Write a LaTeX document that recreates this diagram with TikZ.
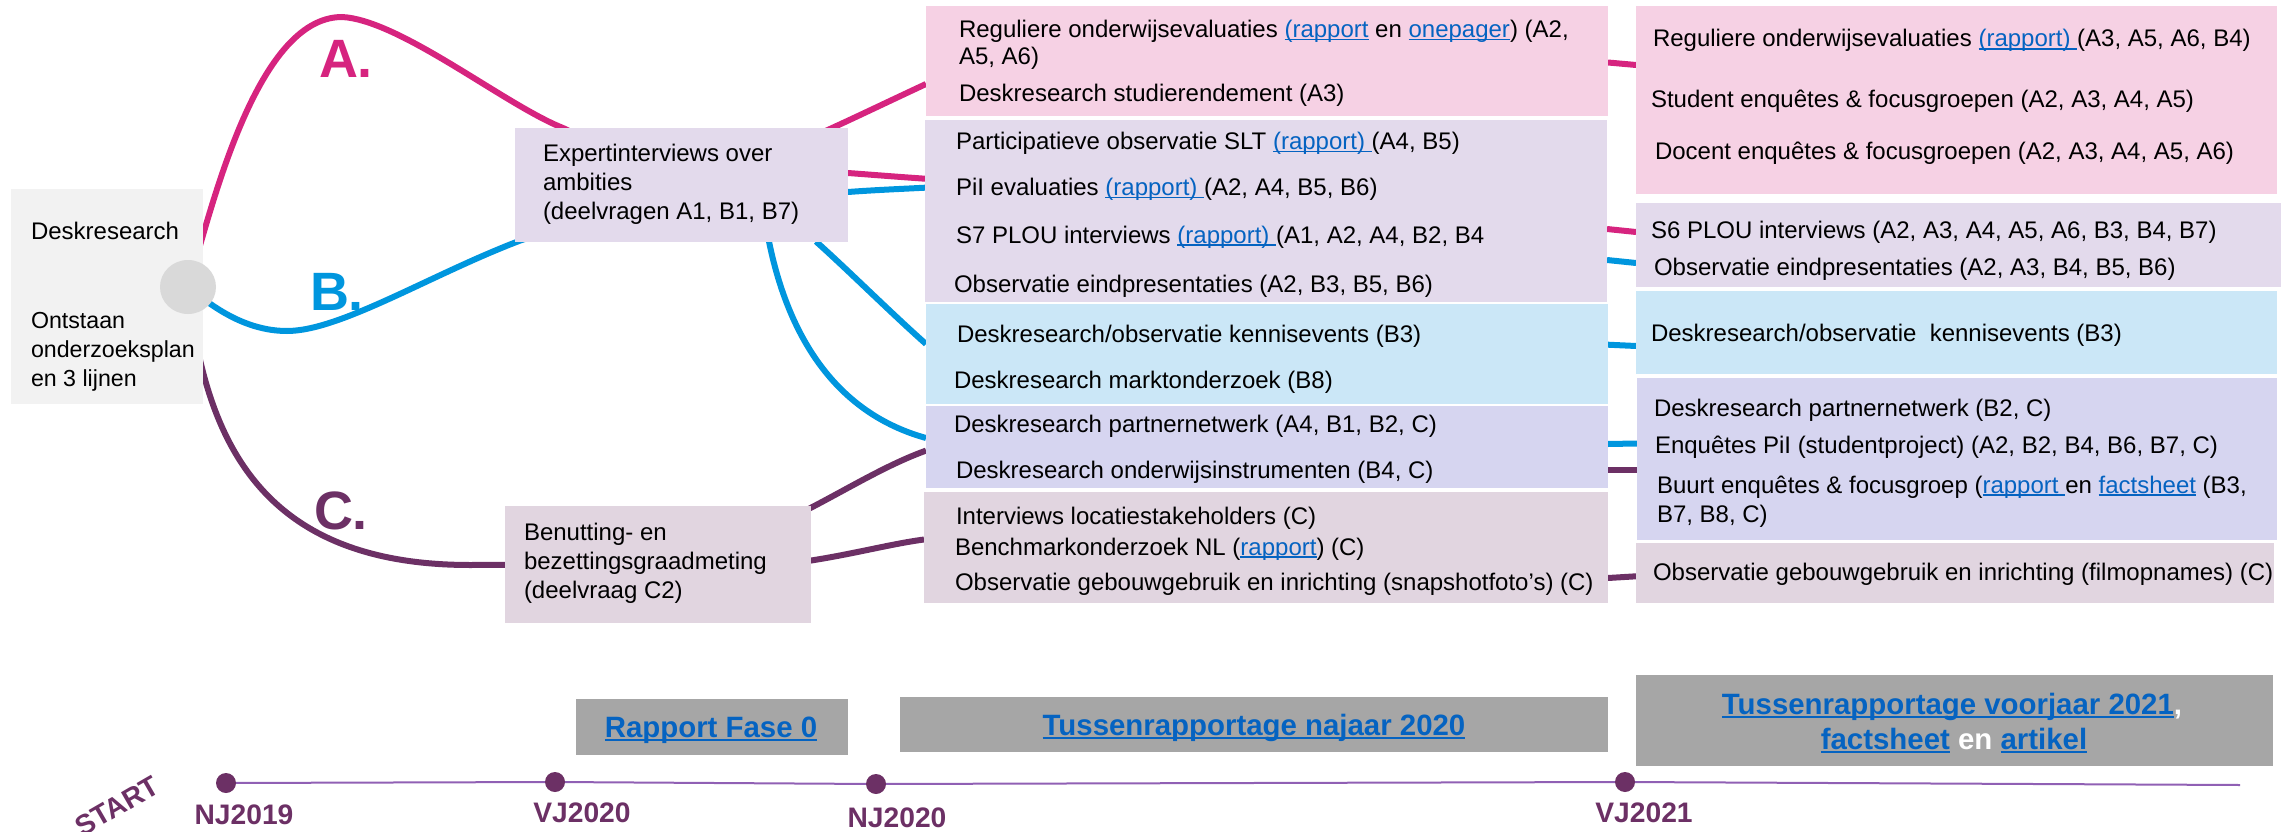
\documentclass[tikz,border=0pt]{standalone}
\usepackage{fontspec}
\setmainfont{Liberation Sans}
\usetikzlibrary{shapes.geometric}
\pgfdeclarelayer{bg}
\pgfsetlayers{bg,main}
\definecolor{cpink}{HTML}{D6247F}
\definecolor{cblue}{HTML}{0096DE}
\definecolor{cplum}{HTML}{6C3065}
\definecolor{fpink}{HTML}{F6D1E4}
\definecolor{flav}{HTML}{E3DAEC}
\definecolor{fblue}{HTML}{CBE7F7}
\definecolor{fperi}{HTML}{D6D5F0}
\definecolor{fmauve}{HTML}{E1D5E0}
\definecolor{fgrey}{HTML}{F2F2F2}
\definecolor{fbar}{HTML}{A6A6A6}
\definecolor{lnk}{HTML}{0563C1}
\definecolor{tline}{HTML}{9060B4}
\newsavebox{\lnkbox}
\newcommand{\lnk}[1]{\sbox{\lnkbox}{\color{lnk}#1}\rlap{\usebox{\lnkbox}}\textcolor{lnk}{\rule[-2.6pt]{\wd\lnkbox}{1.4pt}}}
\newcommand{\lnkb}[1]{\sbox{\lnkbox}{\color{lnk}#1}\rlap{\usebox{\lnkbox}}\textcolor{lnk}{\rule[-4.4pt]{\wd\lnkbox}{2.6pt}}}
\newcommand{\bx}[6]{\node[boxnode,fill=#2,minimum width={(#5)-(#3)},minimum height={(#6)-(#4)}] (#1) at ({((#3)+(#5))/2},{((#4)+(#6))/2}) {};}
\newcommand{\tx}[4]{\node[label text] (#1) at (#2,#3) {#4};}
\tikzset{
  boxnode/.style={inner sep=0pt,outer sep=0pt,draw=none},
  label text/.style={anchor=base west,inner sep=0pt,outer sep=0pt,align=left,text=black,font=\fontsize{24pt}{29pt}\selectfont},
  bar text/.style={anchor=base,inner sep=0pt,outer sep=0pt,text=white,font=\bfseries\fontsize{29.4pt}{35pt}\selectfont},
  date text/.style={anchor=base,inner sep=0pt,outer sep=0pt,text=cplum,font=\bfseries\fontsize{28.2pt}{33pt}\selectfont},
  letter/.style={anchor=base,inner sep=0pt,outer sep=0pt,font=\bfseries\fontsize{54pt}{60pt}\selectfont},
  conn/.style={line width=6pt,line cap=butt},
  dot/.style={circle,fill=cplum,inner sep=0pt,minimum size=20pt}
}
\begin{document}
\begin{tikzpicture}[x=1pt,y=-1pt]
\useasboundingbox (0,0) rectangle (2288,832);
% left
\bx{start}{fgrey}{11}{189}{203}{404}
\node[ellipse,fill=black!15,inner sep=0pt,minimum width=56pt,minimum height=54pt] (hub) at (188,287) {};
\bx{expert}{flav}{515}{128}{848}{241.5}
\bx{benut}{fmauve}{505}{506}{811}{623}
% middle column
\bx{mpink}{fpink}{926}{6}{1608}{116}
\bx{mlav}{flav}{925}{120}{1607}{302}
\bx{mblue}{fblue}{926}{304}{1608}{404}
\bx{mperi}{fperi}{926}{406}{1608}{488}
\bx{mmauve}{fmauve}{924}{492}{1608}{603}
% right column
\bx{rpink}{fpink}{1636}{6}{2277}{194}
\bx{rlav}{flav}{1636}{203}{2281}{287}
\bx{rblue}{fblue}{1636}{291}{2277}{374}
\bx{rperi}{fperi}{1637}{378}{2277}{540}
\bx{rmauve}{fmauve}{1636}{543}{2274}{603}
% bars
\bx{bar1}{fbar}{576}{699}{848}{755}
\bx{bar2}{fbar}{900}{697}{1608}{752}
\bx{bar3}{fbar}{1636}{675}{2273}{766}
% connectors
\begin{pgfonlayer}{bg}
\draw[conn,cpink] (hub.center) .. controls (210,215) and (255,17) .. (342,17) .. controls (400,20) and (505,105) .. (563,128) -- (expert.center);
\draw[conn,cblue] (hub.center) .. controls (205,300) and (240,331) .. (287,331) .. controls (340,331) and (430,275) .. (519,241) -- (expert.center);
\draw[conn,cplum] (hub.center) .. controls (205,440) and (260,565) .. (470,565) -- (benut.center);
\draw[conn,cpink] (expert.center) .. controls (760,165) and (840,124) .. ([yshift=-23pt]mpink.west);
\draw[conn,cpink] ([yshift=11.75pt]expert.east) .. controls (875,175) and (900,177) .. ([yshift=32.3pt]mlav.west);
\draw[conn,cblue] ([yshift=-7.25pt]expert.east) .. controls (875,190) and (900,189) .. ([yshift=23.3pt]mlav.west);
\draw[conn,cblue] ([xshift=-32pt]expert.south east) .. controls (850,272) and (890,312) .. ([yshift=10pt]mblue.west);
\draw[conn,cblue] ([xshift=-79pt]expert.south east) .. controls (785,320) and (825,410) .. ([yshift=9pt]mperi.west);
\draw[conn,cplum] (benut.center) .. controls (780,540) and (850,478) .. ([yshift=-3.6pt]mperi.west);
\draw[conn,cplum] (benut.center) .. controls (780,578) and (860,548) .. ([yshift=8pt]mmauve.west);
\draw[conn,cpink] ([yshift=-1.5pt]mpink.east) -- ([yshift=35pt]rpink.west);
\draw[conn,cpink] ([yshift=-18pt]mlav.east) -- ([yshift=13pt]rlav.west);
\draw[conn,cblue] ([yshift=-49pt]mlav.east) -- ([yshift=-18pt]rlav.west);
\draw[conn,cblue] ([yshift=9.3pt]mblue.east) -- ([yshift=-13.5pt]rblue.west);
\draw[conn,cblue] ([yshift=3pt]mperi.east) -- ([yshift=15.5pt]rperi.west);
\draw[conn,cplum] ([yshift=-22.6pt]mperi.east) -- ([yshift=-10.6pt]rperi.west);
\draw[conn,cplum] ([yshift=-30.5pt]mmauve.east) -- ([yshift=-3.3pt]rmauve.west);
\end{pgfonlayer}
% letters
\node[letter,text=cpink] (la) at (346,78) {A.};
\node[letter,text=cblue] (lb) at (337,310) {B.};
\node[letter,text=cplum] (lc) at (341,529) {C.};
% left texts
\tx{t1}{31}{239}{Deskresearch}
\node[label text,font=\fontsize{23.2pt}{29pt}\selectfont] (t2) at (31,386) {Ontstaan\\onderzoeksplan\\en 3 lijnen};
\tx{t3}{543}{219}{Expertinterviews over\\ambities\\(deelvragen A1, B1, B7)}
\tx{t4}{524}{598}{Benutting- en\\bezettingsgraadmeting\\(deelvraag C2)}
% middle texts
\tx{m1}{959}{65}{Reguliere onderwijsevaluaties \lnk{(rapport} en \lnk{onepager}) (A2,\\[-1.5pt]A5, A6)}
\tx{m2}{959}{102}{Deskresearch studierendement (A3)}
\tx{m3}{956}{149.5}{Participatieve observatie SLT \lnk{(rapport)\ }(A4, B5)}
\tx{m4}{956}{195.7}{PiI evaluaties \lnk{(rapport)\ }(A2, A4, B5, B6)}
\tx{m5}{956}{243}{S7 PLOU interviews \lnk{(rapport)\ }(A1, A2, A4, B2, B4}
\tx{m6}{954}{292.5}{Observatie eindpresentaties (A2, B3, B5, B6)}
\tx{m7}{957}{342}{Deskresearch/observatie kennisevents (B3)}
\tx{m8}{954}{388}{Deskresearch marktonderzoek (B8)}
\tx{m9}{954}{432.4}{Deskresearch partnernetwerk (A4, B1, B2, C)}
\tx{m10}{956}{478}{Deskresearch onderwijsinstrumenten (B4, C)}
\tx{m11}{956}{524}{Interviews locatiestakeholders (C)}
\tx{m12}{955}{555}{Benchmarkonderzoek NL (\lnk{rapport}) (C)}
\tx{m13}{955}{590}{Observatie gebouwgebruik en inrichting (snapshotfoto’s) (C)}
% right texts
\tx{r1}{1653}{47}{Reguliere onderwijsevaluaties \lnk{(rapport)\ }(A3, A5, A6, B4)}
\tx{r2}{1651}{107.5}{Student enquêtes \& focusgroepen (A2, A3, A4, A5)}
\tx{r3}{1655}{159}{Docent enquêtes \& focusgroepen (A2, A3, A4, A5, A6)}
\tx{r4}{1651}{238}{S6 PLOU interviews (A2, A3, A4, A5, A6, B3, B4, B7)}
\tx{r5}{1654}{275}{Observatie eindpresentaties (A2, A3, B4, B5, B6)}
\tx{r6}{1651}{341}{Deskresearch/observatie\ \ kennisevents (B3)}
\tx{r7}{1654}{416}{Deskresearch partnernetwerk (B2, C)}
\tx{r8}{1655}{453}{Enquêtes PiI (studentproject) (A2, B2, B4, B6, B7, C)}
\tx{r9}{1657}{522}{Buurt enquêtes \& focusgroep (\lnk{rapport\ }en \lnk{factsheet} (B3,\\B7, B8, C)}
\tx{r10}{1653}{580}{Observatie gebouwgebruik en inrichting (filmopnames) (C)}
% bars text
\node[bar text] (b1) at (711,737) {\lnkb{Rapport Fase 0}};
\node[bar text] (b2) at (1254,735) {\lnkb{Tussenrapportage najaar 2020}};
\node[bar text] (b3) at (1952,714) {\lnkb{Tussenrapportage voorjaar 2021},};
\node[bar text] (b4) at (1954,749) {\lnkb{factsheet} en \lnkb{artikel}};
% timeline
\node[dot] (d1) at (226,783) {};
\node[dot] (d2) at (555,782) {};
\node[dot] (d3) at (876,784) {};
\node[dot] (d4) at (1625,782) {};
\coordinate (tend) at (2240,785);
\begin{pgfonlayer}{bg}
\draw[tline,line width=2pt] (d1.center) -- (d2.center) -- (d3.center) -- (d4.center) -- (tend);
\end{pgfonlayer}
\node[date text] (n1) at (244,824) {NJ2019};
\node[date text] (n2) at (582,822) {VJ2020};
\node[date text] (n3) at (897,827) {NJ2020};
\node[date text] (n4) at (1644,822) {VJ2021};
\node[date text,anchor=center,rotate=30] (st) at (117,806) {START};
\end{tikzpicture}
\end{document}
